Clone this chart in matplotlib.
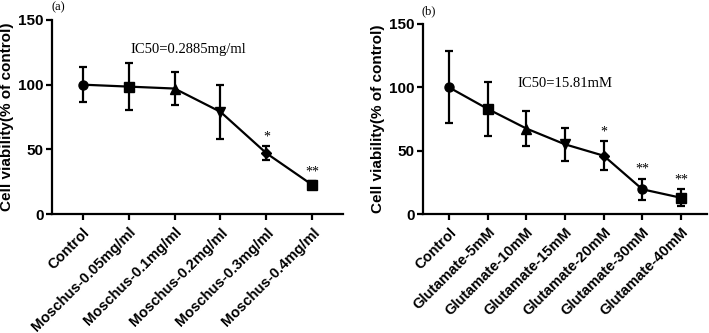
import matplotlib
matplotlib.use("Agg")
import matplotlib.pyplot as plt

# Data
a_labels = ["Control", "Moschus-0.05mg/ml", "Moschus-0.1mg/ml", "Moschus-0.2mg/ml",
            "Moschus-0.3mg/ml", "Moschus-0.4mg/ml"]
a_means = [100, 98.5, 97, 79, 47, 22.5]
a_err = [13.5, 18, 13, 21, 5.5, 2.8]
a_markers = ["o", "s", "^", "v", "D", "s"]
a_stars = ["", "", "", "", "*", "**"]

b_labels = ["Control", "Glutamate-5mM", "Glutamate-10mM", "Glutamate-15mM",
            "Glutamate-20mM", "Glutamate-30mM", "Glutamate-40mM"]
b_means = [100, 83, 67.5, 55, 46, 19.5, 12.8]
b_err = [28.5, 21.5, 14, 13, 11.3, 8.5, 6.8]
b_markers = ["o", "s", "^", "v", "D", "o", "s"]
b_stars = ["", "", "", "", "*", "**", "**"]

fig = plt.figure(figsize=(7.09, 3.33), dpi=100)
ax1 = fig.add_axes([52/709, 1-214/333, 291/709, 194/333])
ax2 = fig.add_axes([423/709, 1-214/333, 284/709, 190/333])

sans = "Liberation Sans"
serif = "Liberation Serif"

def draw(ax, labels, means, err, markers, stars, ic50, ic_xy, panel):
    x = list(range(len(labels)))
    ax.plot(x, means, color="black", lw=1.6, zorder=2)
    ax.errorbar(x, means, yerr=err, fmt="none", ecolor="black", elinewidth=1.6,
                capsize=3, capthick=1.6, zorder=3)
    for xi, m, mk in zip(x, means, markers):
        ax.plot(xi, m, marker=mk, color="black", ms=6.5 if mk != "D" else 5, zorder=4)
    for xi, m, e, s in zip(x, means, err, stars):
        if s:
            ax.text(xi, m + e + 4.5, s, ha="center", va="baseline", fontsize=10,
                    family=serif)
    ax.set_xlim(-0.67, len(labels) - 1 + 0.67)
    ax.set_ylim(0, 150)
    ax.set_yticks([0, 50, 100, 150])
    ax.set_xticks(x)
    ax.set_xticklabels(labels, rotation=45, ha="right", rotation_mode="anchor",
                       fontsize=10.5, fontweight="bold", family=sans)
    for t in ax.get_yticklabels():
        t.set_fontsize(11)
        t.set_fontweight("bold")
        t.set_family(sans)
    ax.set_ylabel("Cell viability(% of control)", fontsize=11, fontweight="bold",
                  family=sans, labelpad=3)
    for sp in ["top", "right"]:
        ax.spines[sp].set_visible(False)
    for sp in ["left", "bottom"]:
        ax.spines[sp].set_linewidth(1.6)
    ax.tick_params(axis="both", width=1.6, length=4, pad=2)
    ax.tick_params(axis="x", pad=4)
    ax.text(ic_xy[0], ic_xy[1], ic50, ha="center", va="center", fontsize=10.5,
            family=serif)
    ax.text(0.02, 1.035, panel, transform=ax.transAxes, ha="center", va="bottom",
            fontsize=9, family=serif)

draw(ax1, a_labels, a_means, a_err, a_markers, a_stars, "IC50=0.2885mg/ml",
     (2.3, 127), "(a)")
draw(ax2, b_labels, b_means, b_err, b_markers, b_stars, "IC50=15.81mM",
     (3.0, 103), "(b)")

fig.savefig("out.png", dpi=100)
